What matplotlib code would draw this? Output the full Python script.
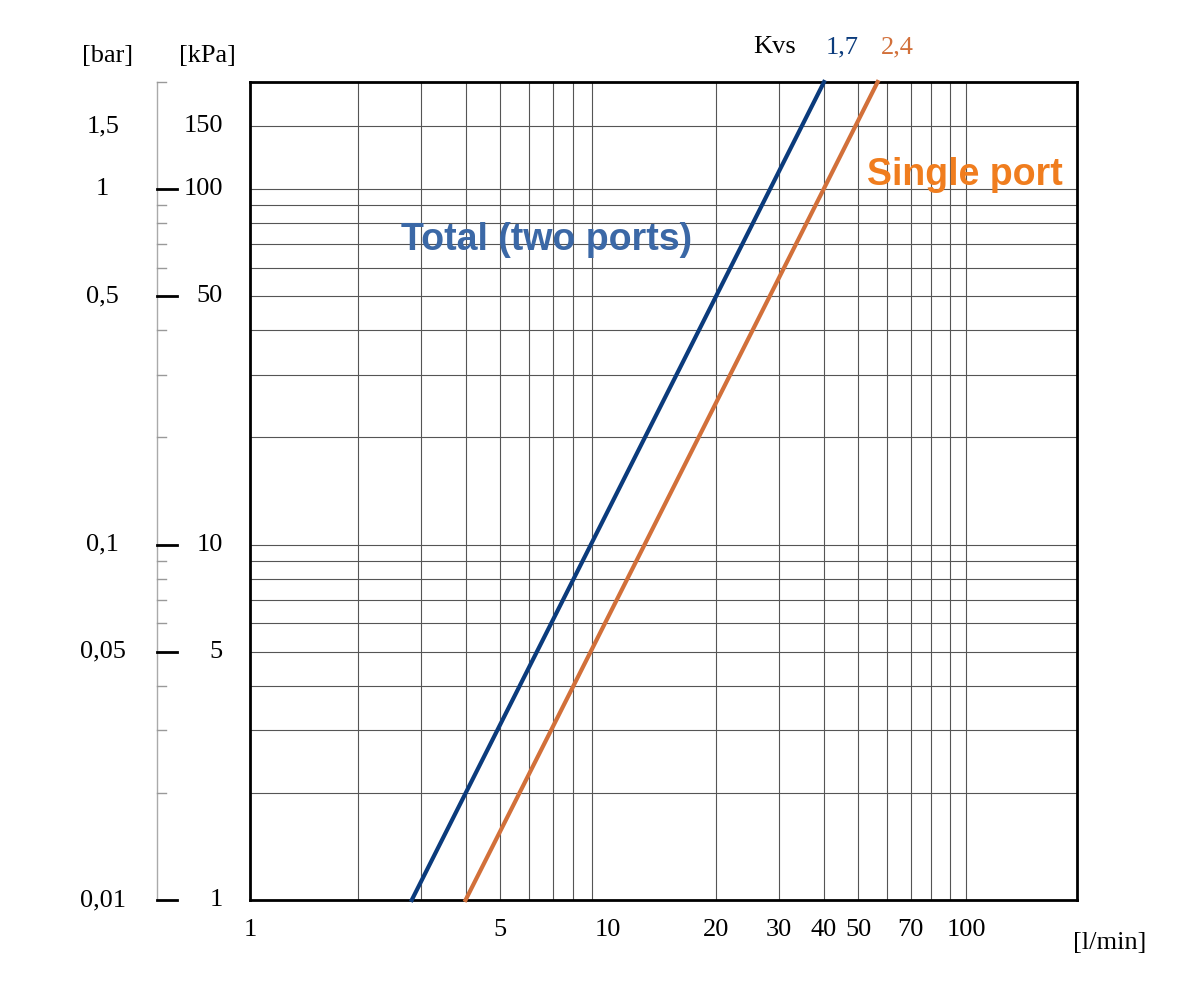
import matplotlib
matplotlib.use("Agg")
import matplotlib.pyplot as plt
import matplotlib.transforms as mtransforms

dp_kpa = [1, 200]
q_total = [2.83, 40.1]
q_single = [4.0, 56.6]
kvs_labels = ["1,7", "2,4"]
x_ticks = [1, 5, 10, 20, 30, 40, 50, 70, 100]
kpa_ticks = [150, 100, 50, 10, 5, 1]
bar_labels = ["1,5", "1", "0,5", "0,1", "0,05", "0,01"]
major_left = [100, 50, 10, 5, 1]

blue = "#0b3b7c"
orange = "#d2703a"
serif = "Liberation Serif"
fs = 19

fig = plt.figure(figsize=(11.84, 9.84), dpi=100)
ax = fig.add_axes([250/1184, 1-900/984, 827/1184, 818/984])
ax.set_xscale("log"); ax.set_yscale("log")
ax.set_xlim(1, 204); ax.set_ylim(1, 200)

xg = [v*d for d in (1, 10) for v in range(2, 10)] + [100]
yg = [v*d for d in (1, 10) for v in range(2, 10)] + [10, 100, 150]
for v in xg:
    ax.axvline(v, color="#555555", lw=0.8, zorder=1)
for v in yg:
    ax.axhline(v, color="#555555", lw=0.8, zorder=1)
for s in ax.spines.values():
    s.set_linewidth(2); s.set_color("black")

ax.plot(q_total, dp_kpa, color=blue, lw=3, zorder=3, clip_on=False)
ax.plot(q_single, dp_kpa, color=orange, lw=3, zorder=3, clip_on=False)

ax.set_xticks(x_ticks)
ax.set_xticklabels([str(v) for v in x_ticks], fontfamily=serif, fontsize=fs)
ax.set_xticks([], minor=True)
ax.set_yticks([]); ax.set_yticks([], minor=True)
ax.tick_params(axis="x", length=0, pad=14)
ax.text(1.04, -0.052, "[l/min]", transform=ax.transAxes, ha="center", va="center",
        fontfamily=serif, fontsize=fs)

tr = mtransforms.blended_transform_factory(ax.transAxes, ax.transData)
sx = (157-250)/827
ax.plot([sx, sx], [1, 200], transform=tr, color="#aaaaaa", lw=1, clip_on=False)
minors = [v*d for d in (1, 10, 100) for v in range(1, 10) if v*d <= 200]
for v in minors:
    ax.plot([sx, sx+0.011], [v, v], transform=tr, color="#999999", lw=1, clip_on=False)
for v in major_left:
    ax.plot([sx, sx+0.024], [v, v], transform=tr, color="black", lw=2, clip_on=False)
for v, b in zip(kpa_ticks, bar_labels):
    ax.text(-0.033, v, str(v), transform=tr, ha="right", va="center", fontfamily=serif, fontsize=fs)
    ax.text(-0.178, v, b, transform=tr, ha="center", va="center", fontfamily=serif, fontsize=fs)
ax.text(-0.172, 1.032, "[bar]", transform=ax.transAxes, ha="center", va="center", fontfamily=serif, fontsize=fs)
ax.text(-0.052, 1.032, "[kPa]", transform=ax.transAxes, ha="center", va="center", fontfamily=serif, fontsize=fs)

fig.text(775/1184, 1-47/984, "Kvs", ha="center", va="center", fontfamily=serif, fontsize=fs)
fig.text(842/1184, 1-47/984, kvs_labels[0], ha="center", va="center", fontfamily=serif, fontsize=fs, color=blue)
fig.text(897/1184, 1-47/984, kvs_labels[1], ha="center", va="center", fontfamily=serif, fontsize=fs, color=orange)

fig.text(547/1184, 1-240/984, "Total (two ports)", ha="center", va="center",
         fontfamily="Liberation Sans", fontweight="bold", fontsize=27, color="#3b68a6")
fig.text(965/1184, 1-175/984, "Single port", ha="center", va="center",
         fontfamily="Liberation Sans", fontweight="bold", fontsize=27, color="#f07d1e")

fig.savefig("out.png", dpi=100)
